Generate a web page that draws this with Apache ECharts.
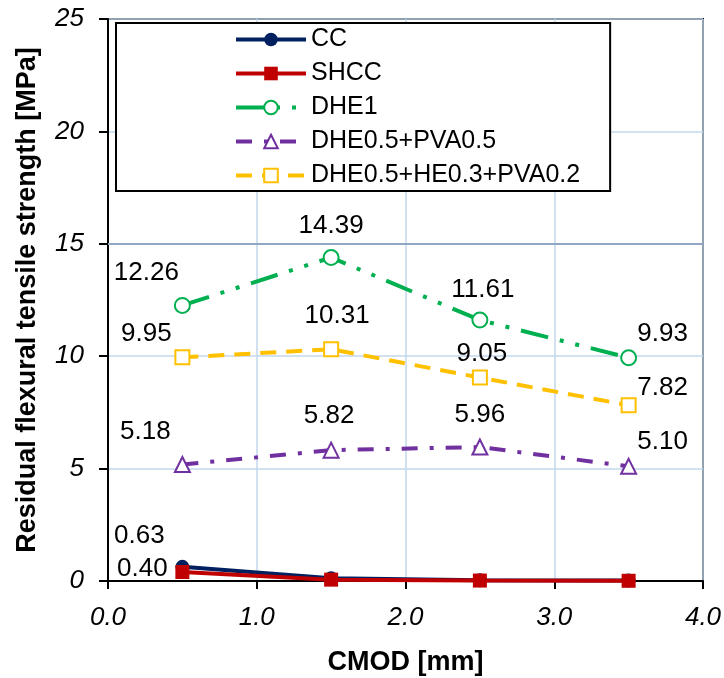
<!DOCTYPE html>
<html>
<head>
<meta charset="utf-8">
<script src="https://cdn.jsdelivr.net/npm/echarts@6/dist/echarts.min.js"></script>
<style>
html,body{margin:0;padding:0;background:#fff;}
#chart{width:724px;height:678px;}
</style>
</head>
<body>
<div id="chart"></div>
<script>
// ---- data ----
const xValues = [0.5, 1.5, 2.5, 3.5];
const seriesNames = ['CC', 'SHCC', 'DHE1', 'DHE0.5+PVA0.5', 'DHE0.5+HE0.3+PVA0.2'];
const ccValues = [0.63, 0.12, 0.03, 0.02];
const shccValues = [0.40, 0.06, 0.02, 0.01];
const dhe1Values = [12.26, 14.39, 11.61, 9.93];
const dhePvaValues = [5.18, 5.82, 5.96, 5.10];
const dheHePvaValues = [9.95, 10.31, 9.05, 7.82];
// which points carry a value label (per series)
const ccLabelShown = [true, false, false, false];
const shccLabelShown = [true, false, false, false];
const xTicks = [0, 1, 2, 3, 4];
const yTicks = [0, 5, 10, 15, 20, 25];

// ---- styling (not data) ----
const labelOffsets = {
  CC: [[-43, -31]],
  SHCC: [[-40, -3]],
  DHE1: [[-36, -33], [0, -32], [3, -30], [34, -24]],
  PVA: [[-37, -33], [-2, -34], [0, -32], [34, -25]],
  HE: [[-36, -23], [6, -33], [2, -24], [34, -17]]
};
const FONT = "'Liberation Sans', Arial, sans-serif";

function buildData(vals, offsets, shown) {
  return vals.map((v, i) => {
    const show = shown ? shown[i] : true;
    const d = { value: [xValues[i], v] };
    d.label = show ? { show: true, position: 'inside', offset: offsets[i], formatter: v.toFixed(2) } : { show: false };
    return d;
  });
}

const labelBase = { color: '#000', fontSize: 26, fontFamily: FONT };

const chart = echarts.init(document.getElementById('chart'), null, { renderer: 'canvas' });
chart.setOption({
  animation: false,
  backgroundColor: '#fff',
  grid: { left: 108, right: 21, top: 19, bottom: 97, show: true, borderColor: '#000', borderWidth: 2,
    containLabel: false, outerBoundsMode: 'none' },
  legend: {
    orient: 'vertical',
    left: 116, top: 23,
    padding: [4, 30, 3, 118],
    borderColor: '#000', borderWidth: 2,
    backgroundColor: '#fff',
    itemWidth: 70, itemHeight: 17, itemGap: 9,
    lineStyle: { width: 4 },
    textStyle: { fontSize: 25, fontFamily: FONT, color: '#000', lineHeight: 25 },
    data: seriesNames
  },
  xAxis: {
    type: 'value', min: 0, max: 4, interval: 1,
    name: 'CMOD [mm]', nameLocation: 'middle', nameGap: 68,
    nameTextStyle: { fontSize: 27, fontWeight: 'bold', fontFamily: FONT, color: '#000' },
    axisLine: { show: true, onZero: false, lineStyle: { color: '#000', width: 2 } },
    axisTick: { show: true, inside: false, length: 8, lineStyle: { color: '#000', width: 2 } },
    axisLabel: { fontSize: 26, fontStyle: 'italic', fontFamily: FONT, color: '#000', margin: 24,
      formatter: v => v.toFixed(1) },
    splitLine: { show: true, lineStyle: { color: '#c3d7ee', width: 1.5 } }
  },
  yAxis: {
    type: 'value', min: 0, max: 25, interval: 5,
    name: 'Residual flexural tensile strength [MPa]', nameLocation: 'middle', nameGap: 67,
    nameTextStyle: { fontSize: 27, fontWeight: 'bold', fontFamily: FONT, color: '#000' },
    axisLine: { show: true, lineStyle: { color: '#000', width: 2 } },
    axisTick: { show: true, inside: false, length: 9, lineStyle: { color: '#000', width: 2 } },
    axisLabel: { fontSize: 26, fontStyle: 'italic', fontFamily: FONT, color: '#000', margin: 24 },
    splitLine: { show: true, lineStyle: { color: '#c3d7ee', width: 1.5 } }
  },
  series: [
    {
      name: 'CC', type: 'line', data: buildData(ccValues, labelOffsets.CC, ccLabelShown),
      symbol: 'circle', symbolSize: 14, z: 3,
      itemStyle: { color: '#002060' },
      lineStyle: { color: '#002060', width: 4 },
      label: labelBase,
      markLine: {
        silent: true, symbol: 'none', label: { show: false }, z: 1,
        lineStyle: { color: '#8fa7c2', width: 2, type: 'solid' },
        data: [{ yAxis: yTicks[3] }]
      }
    },
    {
      name: 'SHCC', type: 'line', data: buildData(shccValues, labelOffsets.SHCC, shccLabelShown),
      symbol: 'rect', symbolSize: 14, z: 4,
      itemStyle: { color: '#c00000' },
      lineStyle: { color: '#c00000', width: 4 },
      label: labelBase
    },
    {
      name: 'DHE1', type: 'line', data: buildData(dhe1Values, labelOffsets.DHE1),
      symbol: 'emptyCircle', symbolSize: 15, z: 5,
      itemStyle: { color: '#00b050', borderWidth: 2 },
      lineStyle: { color: '#00b050', width: 4, type: [28, 12, 4, 12, 4, 12] },
      label: labelBase
    },
    {
      name: 'DHE0.5+PVA0.5', type: 'line', data: buildData(dhePvaValues, labelOffsets.PVA),
      symbol: 'emptyTriangle', symbolSize: 15, z: 5,
      itemStyle: { color: '#7030a0', borderWidth: 2 },
      lineStyle: { color: '#7030a0', width: 4, type: [16, 12, 4, 12] },
      label: labelBase
    },
    {
      name: 'DHE0.5+HE0.3+PVA0.2', type: 'line', data: buildData(dheHePvaValues, labelOffsets.HE),
      symbol: 'emptyRect', symbolSize: 14, z: 5,
      itemStyle: { color: '#ffc000', borderWidth: 2 },
      lineStyle: { color: '#ffc000', width: 4, type: [16, 10] },
      label: labelBase
    }
  ]
});
</script>
</body>
</html>
